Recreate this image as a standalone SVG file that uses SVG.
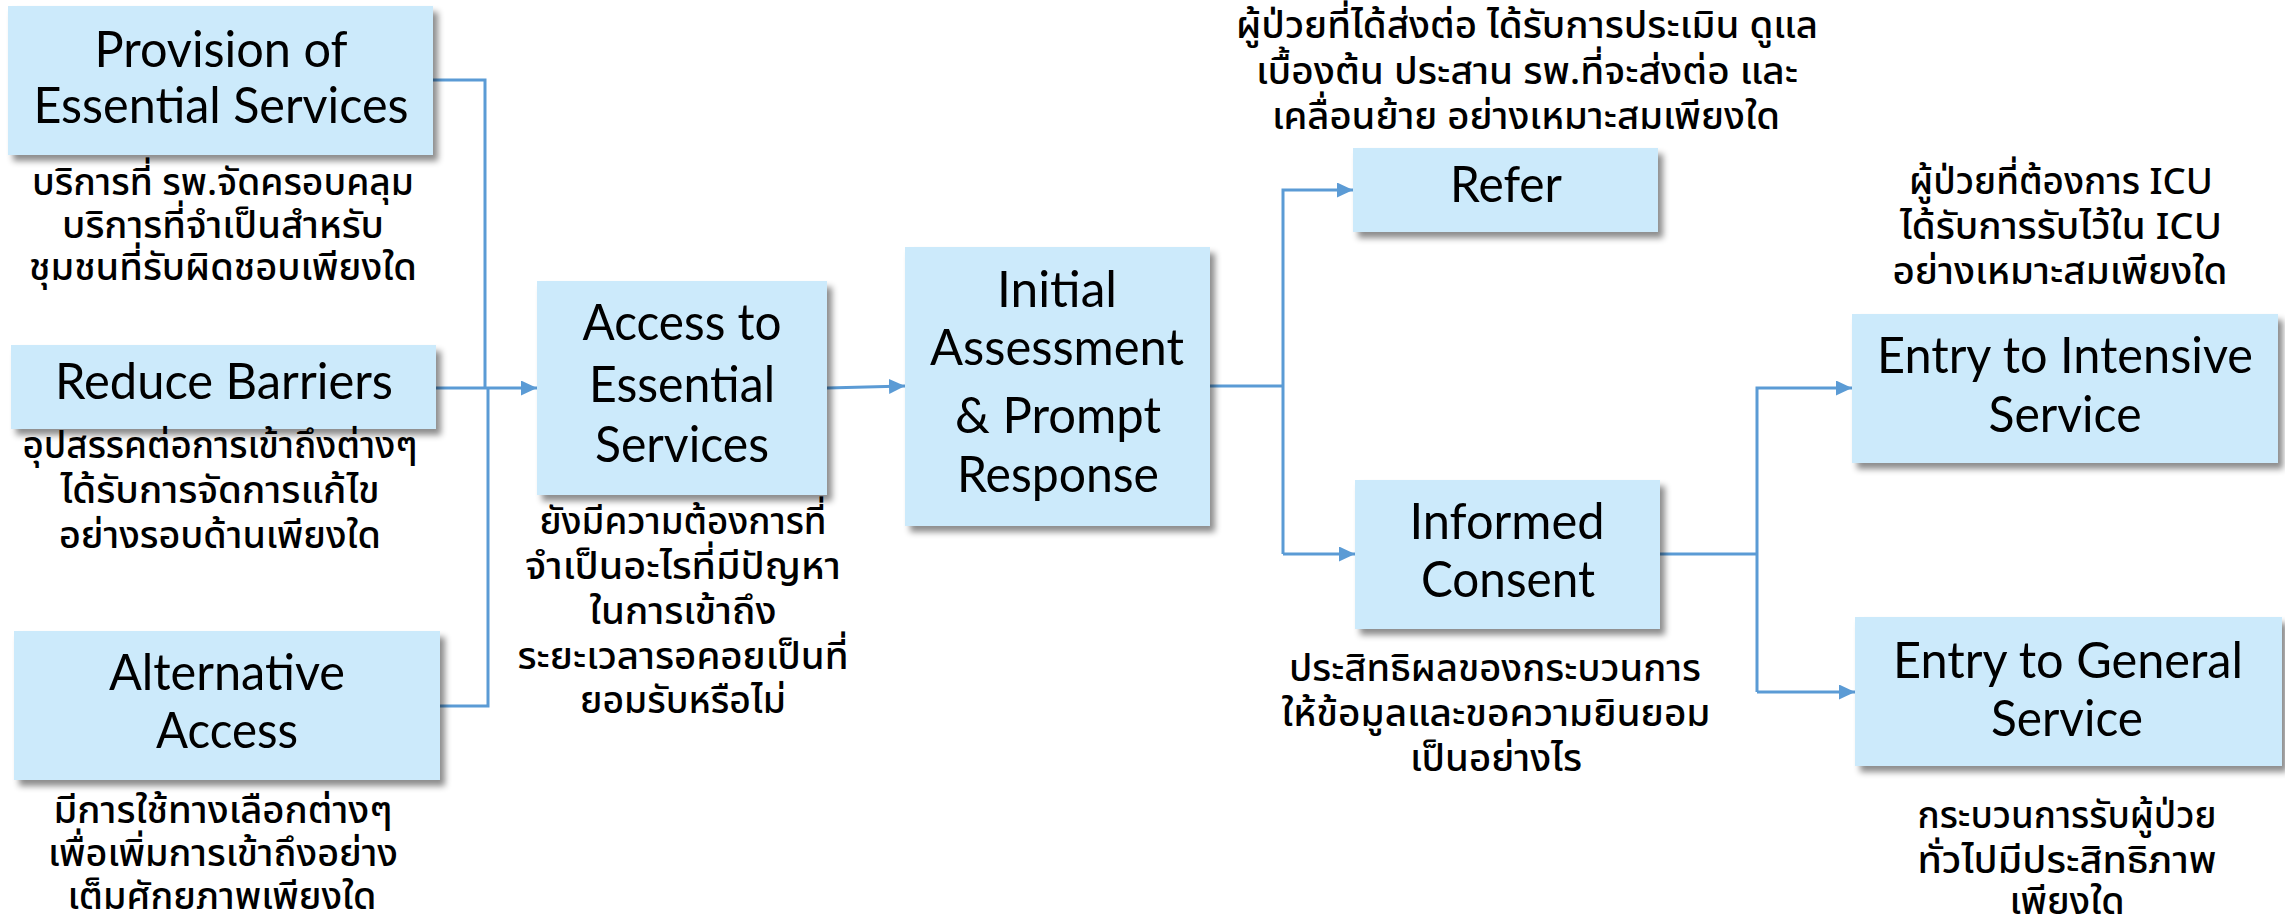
<svg xmlns="http://www.w3.org/2000/svg" width="2285" height="920" viewBox="0 0 2285 920">
<defs>
<filter id="sh" x="-10%" y="-10%" width="125%" height="130%">
<feDropShadow dx="5" dy="6" stdDeviation="3" flood-color="#000" flood-opacity="0.45"/>
</filter>
<marker id="ah" markerUnits="userSpaceOnUse" markerWidth="16" markerHeight="15" refX="16" refY="7.5" orient="auto">
<path d="M0,0 L16,7.5 L0,15 z" fill="#5B9BD5"/>
</marker>
<style>
.box{fill:#CCEAFB;filter:url(#sh)}
.lbl{font-family:Lato,"Open Sans","Noto Sans",sans-serif;font-size:50px;fill:#000;text-anchor:middle}
.th{font-family:"Noto Sans Thai","Noto Sans Thai UI",Tahoma,Loma,Garuda,"Noto Sans",sans-serif;font-size:37px;font-weight:500;fill:#000;text-anchor:middle}
.c{fill:none;stroke:#5B9BD5;stroke-width:3}
</style>
</defs>
<rect width="2285" height="920" fill="#fff"/>

<g id="connectors">
<path class="c" d="M433,80 H485 V388"/>
<path class="c" d="M440,706 H488 V388"/>
<path class="c" d="M436,388 H537" marker-end="url(#ah)"/>
<path class="c" d="M827,388 L905,386" marker-end="url(#ah)"/>
<path class="c" d="M1210,386 H1283"/>
<path class="c" d="M1283,554 V190 H1353" marker-end="url(#ah)"/>
<path class="c" d="M1283,554 H1355" marker-end="url(#ah)"/>
<path class="c" d="M1660,554 H1757"/>
<path class="c" d="M1757,692 V388 H1852" marker-end="url(#ah)"/>
<path class="c" d="M1757,692 H1855" marker-end="url(#ah)"/>
</g>

<g id="provision">
<rect class="box" x="8" y="6" width="425" height="149"/>
<text class="lbl" x="221" y="67" textLength="253" lengthAdjust="spacingAndGlyphs">Provision of</text>
<text class="lbl" x="221" y="123" textLength="375" lengthAdjust="spacingAndGlyphs">Essential Services</text>
<text class="th" x="223" y="195" textLength="382" lengthAdjust="spacingAndGlyphs">บริการที่ รพ.จัดครอบคลุม</text>
<text class="th" x="223" y="238" textLength="322" lengthAdjust="spacingAndGlyphs">บริการที่จำเป็นสำหรับ</text>
<text class="th" x="223" y="280" textLength="388" lengthAdjust="spacingAndGlyphs">ชุมชนที่รับผิดชอบเพียงใด</text>
</g>

<g id="reduce">
<rect class="box" x="11" y="345" width="425" height="84"/>
<text class="lbl" x="224" y="399" textLength="338" lengthAdjust="spacingAndGlyphs">Reduce Barriers</text>
<text class="th" x="220" y="458" textLength="395" lengthAdjust="spacingAndGlyphs">อุปสรรคต่อการเข้าถึงต่างๆ</text>
<text class="th" x="220" y="503" textLength="319" lengthAdjust="spacingAndGlyphs">ได้รับการจัดการแก้ไข</text>
<text class="th" x="220" y="548" textLength="322" lengthAdjust="spacingAndGlyphs">อย่างรอบด้านเพียงใด</text>
</g>

<g id="alternative">
<rect class="box" x="14" y="631" width="426" height="149"/>
<text class="lbl" x="227" y="690" textLength="236" lengthAdjust="spacingAndGlyphs">Alternative</text>
<text class="lbl" x="227" y="748" textLength="142" lengthAdjust="spacingAndGlyphs">Access</text>
<text class="th" x="223" y="823" textLength="339" lengthAdjust="spacingAndGlyphs">มีการใช้ทางเลือกต่างๆ</text>
<text class="th" x="223" y="866" textLength="350" lengthAdjust="spacingAndGlyphs">เพื่อเพิ่มการเข้าถึงอย่าง</text>
<text class="th" x="222" y="909" textLength="309" lengthAdjust="spacingAndGlyphs">เต็มศักยภาพเพียงใด</text>
</g>

<g id="access">
<rect class="box" x="537" y="281" width="290" height="214"/>
<text class="lbl" x="682" y="340" textLength="199" lengthAdjust="spacingAndGlyphs">Access to</text>
<text class="lbl" x="682" y="402" textLength="186" lengthAdjust="spacingAndGlyphs">Essential</text>
<text class="lbl" x="682" y="462" textLength="174" lengthAdjust="spacingAndGlyphs">Services</text>
<text class="th" x="683" y="534" textLength="287" lengthAdjust="spacingAndGlyphs">ยังมีความต้องการที่</text>
<text class="th" x="683" y="579" textLength="316" lengthAdjust="spacingAndGlyphs">จำเป็นอะไรที่มีปัญหา</text>
<text class="th" x="683" y="624" textLength="187" lengthAdjust="spacingAndGlyphs">ในการเข้าถึง</text>
<text class="th" x="683" y="669" textLength="331" lengthAdjust="spacingAndGlyphs">ระยะเวลารอคอยเป็นที่</text>
<text class="th" x="683" y="713" textLength="206" lengthAdjust="spacingAndGlyphs">ยอมรับหรือไม่</text>
</g>

<g id="initial">
<rect class="box" x="905" y="247" width="305" height="279"/>
<text class="lbl" x="1057" y="307" textLength="120" lengthAdjust="spacingAndGlyphs">Initial</text>
<text class="lbl" x="1057" y="365" textLength="254" lengthAdjust="spacingAndGlyphs">Assessment</text>
<text class="lbl" x="1058" y="433" textLength="206" lengthAdjust="spacingAndGlyphs">&amp; Prompt</text>
<text class="lbl" x="1058" y="492" textLength="202" lengthAdjust="spacingAndGlyphs">Response</text>
</g>

<g id="refer">
<rect class="box" x="1353" y="148" width="305" height="84"/>
<text class="lbl" x="1506" y="202" textLength="112" lengthAdjust="spacingAndGlyphs">Refer</text>
<text class="th" x="1527" y="38" textLength="582" lengthAdjust="spacingAndGlyphs">ผู้ป่วยที่ได้ส่งต่อ ได้รับการประเมิน ดูแล</text>
<text class="th" x="1527" y="84" textLength="542" lengthAdjust="spacingAndGlyphs">เบื้องต้น ประสาน รพ.ที่จะส่งต่อ และ</text>
<text class="th" x="1526" y="129" textLength="508" lengthAdjust="spacingAndGlyphs">เคลื่อนย้าย อย่างเหมาะสมเพียงใด</text>
</g>

<g id="informed">
<rect class="box" x="1355" y="480" width="305" height="149"/>
<text class="lbl" x="1507" y="539" textLength="195" lengthAdjust="spacingAndGlyphs">Informed</text>
<text class="lbl" x="1508" y="597" textLength="174" lengthAdjust="spacingAndGlyphs">Consent</text>
<text class="th" x="1495" y="681" textLength="412" lengthAdjust="spacingAndGlyphs">ประสิทธิผลของกระบวนการ</text>
<text class="th" x="1496" y="726" textLength="429" lengthAdjust="spacingAndGlyphs">ให้ข้อมูลและขอความยินยอม</text>
<text class="th" x="1496" y="771" textLength="172" lengthAdjust="spacingAndGlyphs">เป็นอย่างไร</text>
</g>

<g id="intensive">
<rect class="box" x="1852" y="314" width="426" height="149"/>
<text class="lbl" x="2065" y="373" textLength="376" lengthAdjust="spacingAndGlyphs">Entry to Intensive</text>
<text class="lbl" x="2065" y="432" textLength="153" lengthAdjust="spacingAndGlyphs">Service</text>
<text class="th" x="2061" y="194" textLength="304" lengthAdjust="spacingAndGlyphs">ผู้ป่วยที่ต้องการ ICU</text>
<text class="th" x="2061" y="239" textLength="322" lengthAdjust="spacingAndGlyphs">ได้รับการรับไว้ใน ICU</text>
<text class="th" x="2060" y="284" textLength="335" lengthAdjust="spacingAndGlyphs">อย่างเหมาะสมเพียงใด</text>
</g>

<g id="general">
<rect class="box" x="1855" y="617" width="427" height="149"/>
<text class="lbl" x="2068" y="678" textLength="350" lengthAdjust="spacingAndGlyphs">Entry to General</text>
<text class="lbl" x="2067" y="736" textLength="152" lengthAdjust="spacingAndGlyphs">Service</text>
<text class="th" x="2067" y="828" textLength="299" lengthAdjust="spacingAndGlyphs">กระบวนการรับผู้ป่วย</text>
<text class="th" x="2067" y="873" textLength="299" lengthAdjust="spacingAndGlyphs">ทั่วไปมีประสิทธิภาพ</text>
<text class="th" x="2067" y="914" textLength="115" lengthAdjust="spacingAndGlyphs">เพียงใด</text>
</g>
</svg>
